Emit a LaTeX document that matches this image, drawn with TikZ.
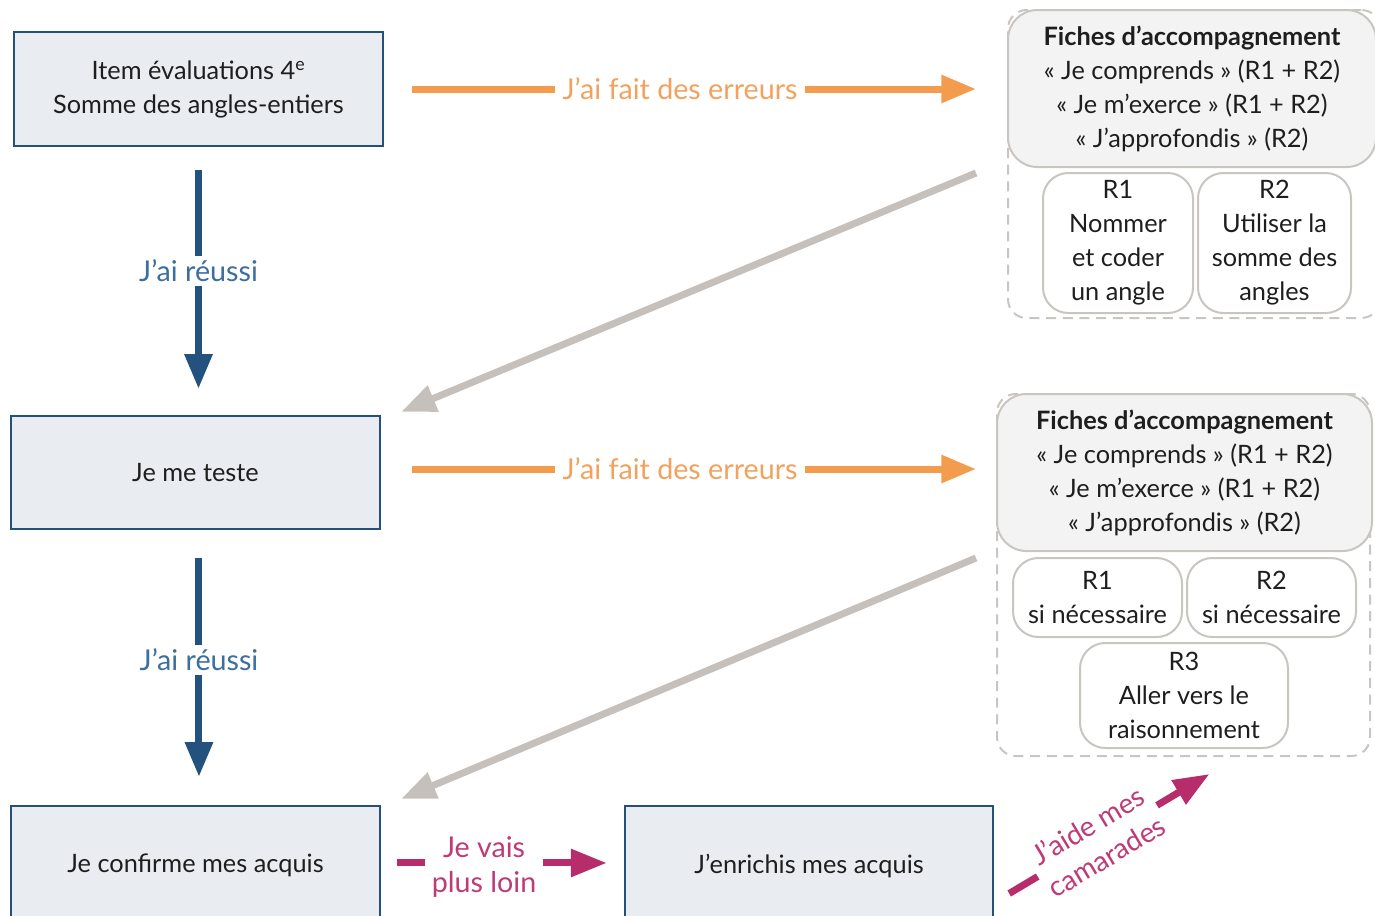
\documentclass[tikz,border=0pt]{standalone}
\usepackage{fontspec}
\setmainfont{Lato}
\usetikzlibrary{arrows.meta}
\definecolor{boxfill}{HTML}{E9EDF2}
\definecolor{boxdraw}{HTML}{25507A}
\definecolor{bluearr}{HTML}{22527D}
\definecolor{bluelab}{HTML}{3C6E9E}
\definecolor{orangearr}{HTML}{F39C4E}
\definecolor{orangelab}{HTML}{F2A25C}
\definecolor{grayarr}{HTML}{C5C0BC}
\definecolor{panelfill}{HTML}{F3F3F3}
\definecolor{paneldraw}{HTML}{C9C5C1}
\definecolor{magarr}{HTML}{B72C6B}
\definecolor{maglab}{HTML}{BE3B77}
\definecolor{txt}{HTML}{1E1E1E}
\tikzset{
  x=0.75pt, y=-0.75pt,
  mainbox/.style={draw=boxdraw, fill=boxfill, line width=1.8pt, minimum width=276.75pt, text=txt, align=center, font=\fontsize{19}{25.5}\selectfont},
  toppanel/.style={draw=paneldraw, fill=panelfill, line width=1.5pt, rounded corners=22pt, text=txt, align=center, font=\fontsize{19}{25.5}\selectfont},
  subpanel/.style={draw=paneldraw, fill=white, line width=1.5pt, rounded corners=19pt, text=txt, align=center, inner sep=1pt, font=\fontsize{19}{25.5}\selectfont},
  outerpanel/.style={draw=paneldraw, dashed, dash pattern=on 7.5pt off 5pt, line width=1.5pt, rounded corners=14pt},
  conn/.style={line width=5.25pt, -{Triangle[length=26pt, width=20pt]}},
  bluec/.style={conn, draw=bluearr},
  orangec/.style={conn, draw=orangearr},
  grayc/.style={conn, draw=grayarr},
  magc/.style={line width=5.25pt, draw=magarr, -{Triangle[length=27pt, width=20pt]}},
  lab/.style={fill=white, align=center, font=\fontsize{21.5}{26}\selectfont, inner xsep=6pt, inner ysep=3pt},
}
\begin{document}
\begin{tikzpicture}
\clip (0,0) rectangle (1375,915);
% left column boxes
\node[mainbox, minimum height=85.5pt] (b1) at (198.5,89) {Item évaluations 4\textsuperscript{e}\\Somme des angles-entiers};
\node[mainbox, minimum height=84.75pt] (b2) at (195.5,472.5) {Je me teste};
\node[mainbox, minimum height=89.25pt] (b3) at (195.5,865.5) {Je confirme mes acquis};
\node[mainbox, minimum height=89.25pt, minimum width=276pt] (b4) at (809,865.5) {J’enrichis mes acquis};

% panel 1
\node[outerpanel, minimum width=279pt, minimum height=231pt] (p1) at (1194,164) {};
\node[toppanel, minimum width=276pt, minimum height=117.75pt] (p1top) at (1192,88.5) {\textbf{Fiches d’accompagnement}\\« Je comprends » (R1 + R2)\\« Je m’exerce » (R1 + R2)\\« J’approfondis » (R2)};
\node[subpanel, minimum width=112.5pt, minimum height=105pt] (p1r1) at (1118,243) {R1\\Nommer\\et coder\\un angle};
\node[subpanel, minimum width=114.75pt, minimum height=105pt] (p1r2) at (1274.5,243) {R2\\Utiliser la\\somme des\\angles};

% panel 2
\node[outerpanel, minimum width=279.75pt, minimum height=271.5pt] (p2) at (1183.5,575) {};
\node[toppanel, minimum width=281.25pt, minimum height=117.75pt] (p2top) at (1184.5,472.5) {\textbf{Fiches d’accompagnement}\\« Je comprends » (R1 + R2)\\« Je m’exerce » (R1 + R2)\\« J’approfondis » (R2)};
\node[subpanel, minimum width=126.75pt, minimum height=59.25pt] (p2r1) at (1097.5,597.5) {R1\\si nécessaire};
\node[subpanel, minimum width=126.75pt, minimum height=59.25pt] (p2r2) at (1271.5,597.5) {R2\\si nécessaire};
\node[subpanel, minimum width=156pt, minimum height=78.75pt] (p2r3) at (1184,695.5) {R3\\Aller vers le\\raisonnement};

% orange connectors
\draw[orangec, shorten <=21pt, shorten >=23.25pt] (b1.east) -- (b1.east -| p1top.west)
  node[lab, pos=0.475, text=orangelab] (lo1) {J’ai fait des erreurs};
\draw[orangec, shorten <=23.25pt, shorten >=15pt] ([yshift=2.6pt]b2.east) -- ([yshift=2.6pt]b2.east -| p2top.west)
  node[lab, pos=0.486, text=orangelab] (lo2) {J’ai fait des erreurs};

% blue connectors
\draw[bluec, shorten <=17.25pt, shorten >=19.5pt] (b1.south) -- (b1.south |- b2.north)
  node[lab, pos=0.463, text=bluelab] (lb1) {J’ai réussi};
\draw[bluec, shorten <=21pt, shorten >=21pt] ([xshift=2.6pt]b2.south) -- ([xshift=2.6pt]b2.south |- b3.north)
  node[lab, pos=0.473, text=bluelab] (lb2) {J’ai réussi};

% gray connectors
\draw[grayc] ([shift={(-31,5)}]p1top.south west) -- ([shift={(20,-3)}]b2.north east);
\draw[grayc] ([shift={(-20,6)}]p2top.south west) -- ([shift={(20,-6)}]b3.north east);

% magenta connectors
\draw[magc, shorten <=12pt, shorten >=12.75pt] ([yshift=1.9pt]b3.east) -- ([yshift=1.9pt]b4.west)
  node[lab, pos=0.424, text=maglab, inner xsep=5pt, yshift=-3pt] (lm1) {Je vais\\plus loin};
\draw[magc] ([shift={(15,28)}]b4.east) -- ([shift={(26,17)}]p2.south)
  node[lab, sloped, pos=0.44, text=maglab, inner sep=3pt, font=\fontsize{21}{27}\selectfont] (lm2) {J’aide mes\\camarades};
\end{tikzpicture}
\end{document}
